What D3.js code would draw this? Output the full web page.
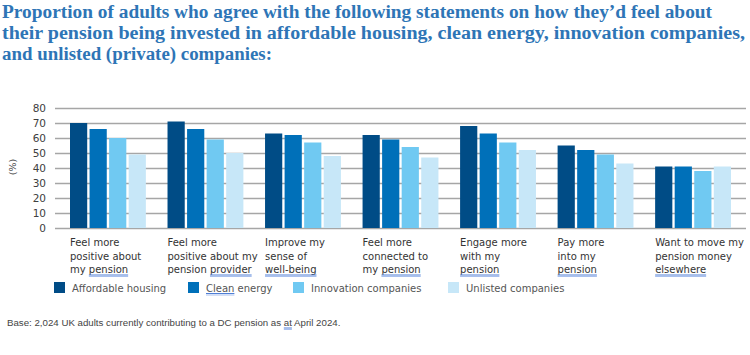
<!DOCTYPE html>
<html><head><meta charset="utf-8">
<script src="https://cdn.jsdelivr.net/npm/d3@7"></script>
<style>body{margin:0;background:#fff;} svg{display:block;}</style>
</head><body>
<svg id="c" width="750" height="355"></svg>
<script>
const categories = [
  ["Feel more", "positive about", "my |pension|"],
  ["Feel more", "positive about my", "pension |provider|"],
  ["Improve my", "sense of", "|well-being|"],
  ["Feel more", "connected to", "my |pension|"],
  ["Engage more", "with my", "|pension|"],
  ["Pay more", "into my", "|pension|"],
  ["Want to move my", "pension money", "|elsewhere|"]
];
const seriesNames = ["Affordable housing", "|Clean| energy", "Innovation companies", "Unlisted companies"];
const affordable = [70, 71, 63, 62, 68, 55, 41];
const cleanEnergy = [66, 66, 62, 59, 63, 52, 41];
const innovation = [60, 59, 57, 54, 57, 49, 38];
const unlisted = [49, 50, 48, 47, 52, 43, 41];
const yTicks = [0, 10, 20, 30, 40, 50, 60, 70, 80];
const colors = ["#004c86", "#0070b9", "#70c9f2", "#c7e7f8"];
const seriesValues = [affordable, cleanEnergy, innovation, unlisted];

const svg = d3.select("#c");
const titleLines = [
  "Proportion of adults who agree with the following statements on how they\u2019d feel about",
  "their pension being invested in affordable housing, clean energy, innovation companies,",
  "and unlisted (private) companies:"
];
const titleLens = [710, 743, 270];
titleLines.forEach((t, i) => {
  svg.append("text").attr("x", 2).attr("y", 18 + i * 21)
    .attr("font-family", "Liberation Serif, serif").attr("font-weight", "bold")
    .attr("font-size", 18).attr("fill", "#2e75b6")
    .attr("textLength", titleLens[i]).attr("lengthAdjust", "spacingAndGlyphs")
    .text(t);
});

const y = d3.scaleLinear().domain([0, 80]).range([228, 108]);
const x0 = d3.scaleBand().domain(d3.range(categories.length)).range([70, 731]).paddingInner(0.222).paddingOuter(0);
const x1 = d3.scaleBand().domain(d3.range(4)).range([0, x0.bandwidth()]).paddingInner(0.12);

// gridlines + y labels
const yAxis = d3.axisLeft(y).tickValues(yTicks).tickSize(-(746 - 55)).tickPadding(9);
const ga = svg.append("g").attr("transform", "translate(55,0)").call(yAxis);
ga.select(".domain").remove();
ga.selectAll(".tick line").attr("stroke", "#a6a6a6").attr("stroke-width", 1.5);
ga.selectAll(".tick text").attr("font-family", "DejaVu Sans, sans-serif")
  .attr("font-size", 10.5).attr("fill", "#404040");

svg.append("text").attr("transform", "translate(16,167) rotate(-90)")
  .attr("text-anchor", "middle").attr("font-family", "DejaVu Sans, sans-serif")
  .attr("font-size", 9.5).attr("fill", "#404040").text("(%)");

// bars
categories.forEach((c, i) => {
  const g = svg.append("g").attr("transform", `translate(${x0(i)},0)`);
  seriesValues.forEach((vals, s) => {
    g.append("rect").attr("x", x1(s)).attr("y", y(vals[i]))
      .attr("width", x1.bandwidth()).attr("height", y(0) - y(vals[i]))
      .attr("fill", colors[s]);
  });
});

function addRich(textSel, str, x, yb) {
  const marks = [];
  str.split("|").forEach((part, k) => {
    if (!part) return;
    const ts = textSel.append("tspan").text(part);
    if (k % 2 === 1) marks.push(ts);
  });
  marks.forEach(ts => {
    const node = ts.node();
    const start = node.getStartPositionOfChar(0).x;
    const len = node.getComputedTextLength();
    [2, 3.5].forEach(dy => {
      svg.append("line").attr("x1", start).attr("x2", start + len)
        .attr("y1", yb + dy).attr("y2", yb + dy)
        .attr("stroke", dy === 2 ? "#4f7fd6" : "#a9c0ee").attr("stroke-width", 1);
    });
  });
}

// category labels
categories.forEach((lines, i) => {
  lines.forEach((ln, j) => {
    const yy = 246 + j * 13.5;
    const t = svg.append("text").attr("x", x0(i)).attr("y", yy)
      .attr("font-family", "DejaVu Sans, sans-serif").attr("font-size", 10)
      .attr("fill", "#333");
    addRich(t, ln, x0(i), yy);
  });
});

// legend
const legX = [54, 188, 293, 448];
seriesNames.forEach((n, s) => {
  svg.append("rect").attr("x", legX[s]).attr("y", 282).attr("width", 11).attr("height", 11).attr("fill", colors[s]);
  const t = svg.append("text").attr("x", legX[s] + 18).attr("y", 291.5)
    .attr("font-family", "DejaVu Sans, sans-serif").attr("font-size", 10).attr("fill", "#555");
  addRich(t, n, legX[s] + 18, 291.5);
});

const ft = svg.append("text").attr("x", 7).attr("y", 326)
  .attr("font-family", "Liberation Sans, Arial, sans-serif").attr("font-size", 9.7).attr("fill", "#444");
addRich(ft, "Base: 2,024 UK adults currently contributing to a DC pension as |at| April 2024.", 7, 326);
</script>
</body></html>
